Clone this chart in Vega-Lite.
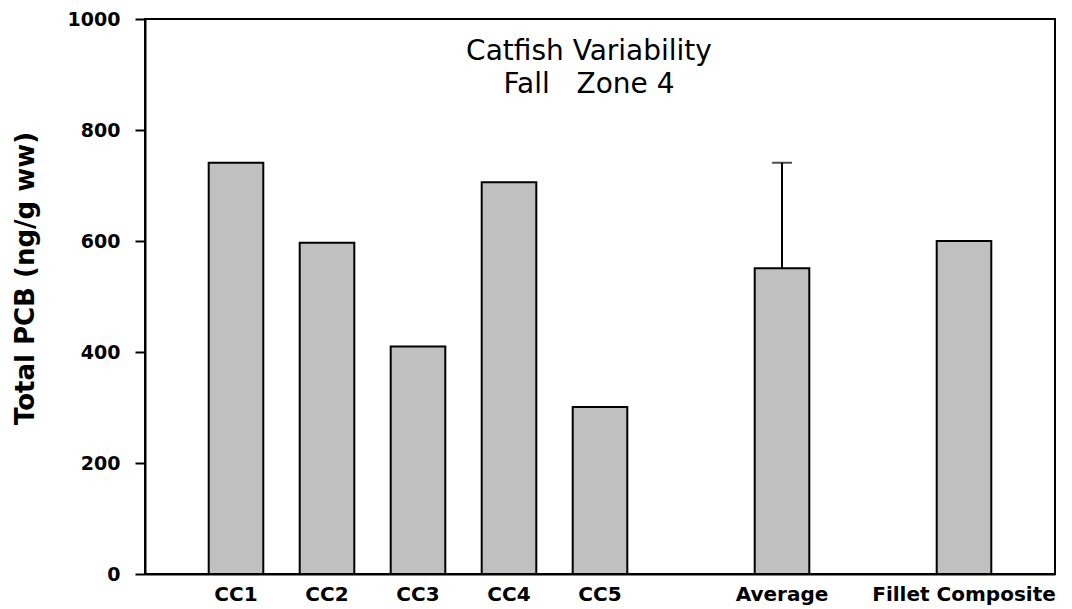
{
  "$schema": "https://vega.github.io/schema/vega-lite/v6.json",
  "width": 910,
  "height": 555,
  "autosize": "none",
  "padding": {"left": 145, "top": 19, "right": 17, "bottom": 35},
  "background": "white",
  "config": {
    "view": {"stroke": "#000000", "strokeWidth": 2},
    "axis": {"grid": false, "domainColor": "#000000", "domainWidth": 2, "tickColor": "#000000", "tickWidth": 2, "labelColor": "#000000", "titleColor": "#000000"}
  },
  "data": {
    "values": [
      {"sample": "CC1", "pcb": 741},
      {"sample": "CC2", "pcb": 597},
      {"sample": "CC3", "pcb": 410},
      {"sample": "CC4", "pcb": 706},
      {"sample": "CC5", "pcb": 301},
      {"sample": "Average", "pcb": 551, "upper": 741},
      {"sample": "Fillet Composite", "pcb": 600}
    ]
  },
  "layer": [
    {
      "mark": {"type": "bar", "fill": "#c0c0c0", "stroke": "#000000", "strokeWidth": 2},
      "encoding": {
        "x": {
          "field": "sample",
          "type": "nominal",
          "scale": {"domain": ["CC1", "CC2", "CC3", "CC4", "CC5", " ", "Average", "  ", "Fillet Composite"], "paddingInner": 0.4, "paddingOuter": 0.7},
          "axis": {"title": null, "labelAngle": 0, "ticks": false, "labelPadding": 10, "labelLimit": 0, "labelFont": "DejaVu Sans", "labelFontWeight": "bold", "labelFontSize": 20, "labelBaseline": "top"}
        },
        "y": {
          "field": "pcb",
          "type": "quantitative",
          "scale": {"domain": [0, 1000], "nice": false},
          "axis": {"title": "Total PCB (ng/g ww)", "values": [0, 200, 400, 600, 800, 1000], "format": "d", "tickSize": 10, "labelPadding": 15, "labelFont": "DejaVu Sans", "labelFontWeight": "bold", "labelFontSize": 19, "titleFont": "DejaVu Sans", "titleFontWeight": "bold", "titleFontSize": 26, "titleX": -112, "titleY": 259, "titleAngle": 270, "titleAlign": "center", "titleBaseline": "alphabetic"}
        }
      }
    },
    {
      "transform": [{"filter": "isValid(datum.upper)"}],
      "mark": {"type": "rule", "color": "#000000", "strokeWidth": 2},
      "encoding": {
        "x": {"field": "sample", "type": "nominal"},
        "y": {"field": "pcb", "type": "quantitative"},
        "y2": {"field": "upper"}
      }
    },
    {
      "transform": [{"filter": "isValid(datum.upper)"}],
      "mark": {"type": "tick", "color": "#000000", "thickness": 2, "size": 20},
      "encoding": {
        "x": {"field": "sample", "type": "nominal"},
        "y": {"field": "upper", "type": "quantitative"}
      }
    },
    {
      "data": {"values": [{"label": "chart title"}]},
      "mark": {"type": "text", "text": ["Catfish Variability", "Fall\u00a0\u00a0\u00a0Zone 4"], "font": "DejaVu Sans", "fontSize": 28, "lineHeight": 33, "baseline": "top", "align": "center", "dx": -11, "color": "#000000"},
      "encoding": {"y": {"datum": 965, "type": "quantitative"}}
    }
  ]
}
